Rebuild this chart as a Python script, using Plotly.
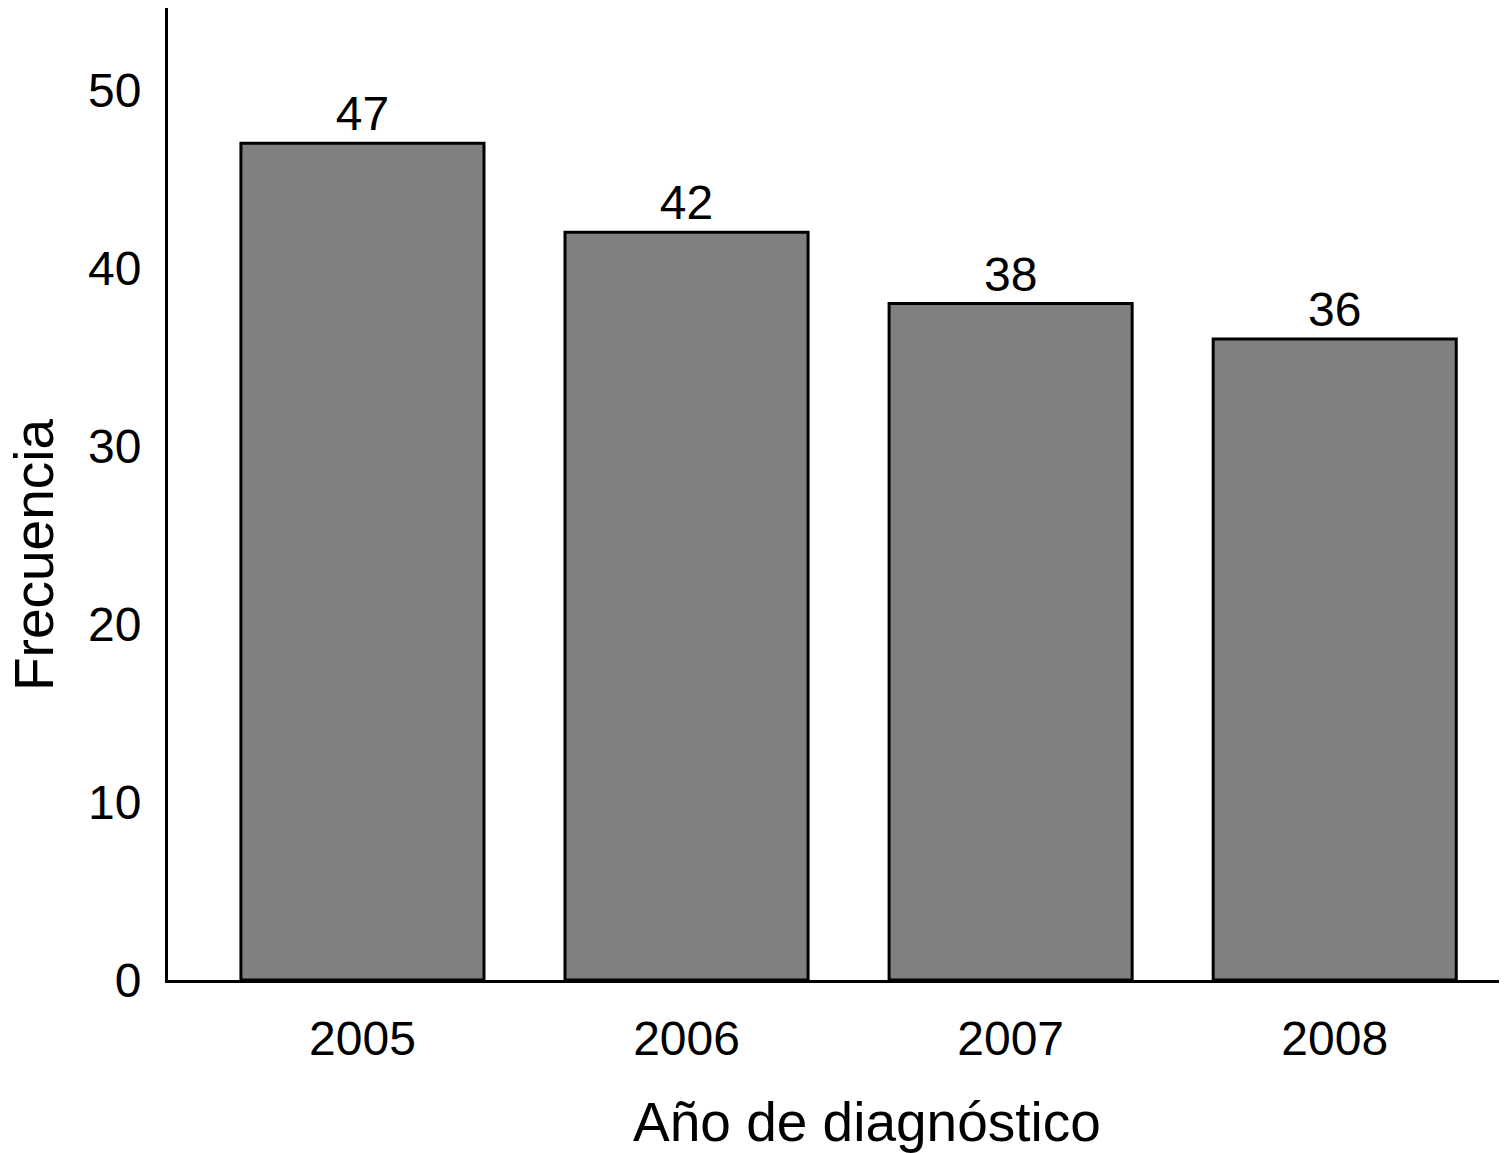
import plotly.graph_objects as go

years = ["2005", "2006", "2007", "2008"]
freq = [47, 42, 38, 36]
y_ticks = [0, 10, 20, 30, 40, 50]

FONT = "Liberation Sans, Arial, Helvetica, sans-serif"

fig = go.Figure(go.Bar(
    x=years, y=freq, width=0.75,
    marker=dict(color="#808080", line=dict(color="black", width=3)),
    text=[str(v) for v in freq], textposition="outside",
    textfont=dict(family=FONT, size=48, color="black"),
    cliponaxis=False,
))

fig.update_layout(
    width=1499, height=1145,
    margin=dict(l=160, r=7, t=0, b=173),
    plot_bgcolor="white", paper_bgcolor="white",
    showlegend=False,
    font=dict(family=FONT, color="black"),
    xaxis=dict(
        type="category", range=[-0.6, 3.51],
        showline=True, linecolor="black", linewidth=3,
        showgrid=False, ticks="", ticklabelstandoff=14,
        tickfont=dict(family=FONT, size=48, color="black"),
    ),
    yaxis=dict(
        range=[0, 54.6], tickvals=y_ticks,
        showline=True, linecolor="black", linewidth=3,
        showgrid=False, zeroline=False, ticks="", ticklabelstandoff=14,
        tickfont=dict(family=FONT, size=48, color="black"),
    ),
    annotations=[
        dict(text="Año de diagnóstico", xref="paper", yref="paper",
             x=(867 - 168) / 1332, y=-(1122 - 980) / 972, xanchor="center", yanchor="middle",
             showarrow=False, font=dict(family=FONT, size=55, color="black")),
        dict(text="Frecuencia", xref="paper", yref="paper",
             x=-(168 - 34) / 1332, y=(980 - 555) / 972, xanchor="center", yanchor="middle",
             textangle=-90, showarrow=False, font=dict(family=FONT, size=55, color="black")),
    ],
)

fig.write_html("out.html")
